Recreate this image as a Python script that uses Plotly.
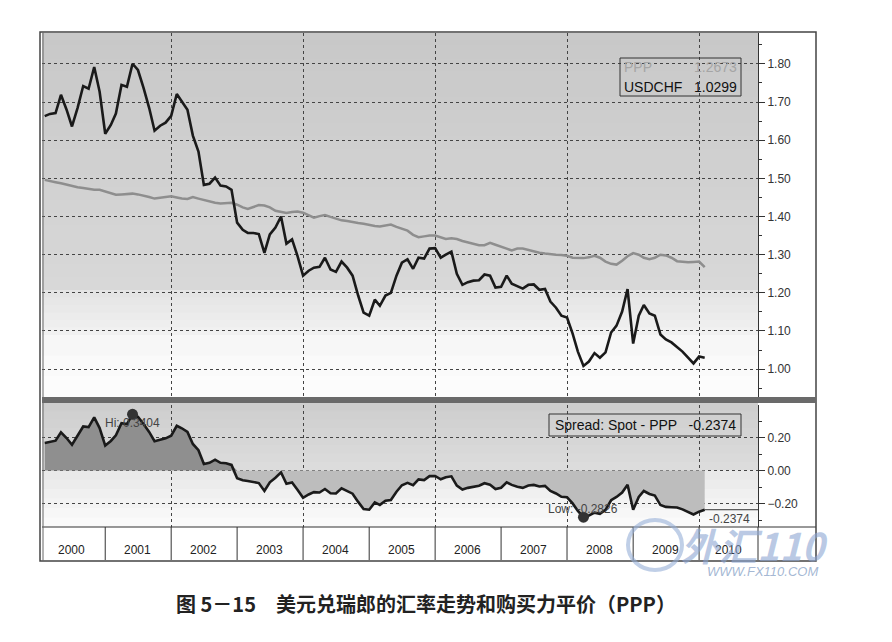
import numpy as np
import pandas as pd
import plotly.graph_objects as go

# monthly readings, Feb 2000 .. Feb 2010
months = pd.date_range("2000-02-01", periods=121, freq="MS")

usdchf = [
    1.663, 1.669, 1.671, 1.719, 1.680, 1.636, 1.685, 1.742, 1.735, 1.792,
    1.727, 1.617, 1.640, 1.670, 1.745, 1.740, 1.8004, 1.784, 1.737, 1.685,
    1.625, 1.638, 1.646, 1.664, 1.721, 1.703, 1.680, 1.612, 1.570, 1.483,
    1.486, 1.502, 1.481, 1.479, 1.470, 1.384, 1.365, 1.357, 1.357, 1.354,
    1.305, 1.353, 1.371, 1.400, 1.329, 1.340, 1.297, 1.245, 1.258, 1.266,
    1.268, 1.292, 1.261, 1.255, 1.282, 1.266, 1.245, 1.193, 1.148, 1.140,
    1.182, 1.166, 1.193, 1.200, 1.245, 1.279, 1.288, 1.263, 1.292, 1.290,
    1.316, 1.317, 1.292, 1.300, 1.308, 1.250, 1.221, 1.228, 1.232, 1.233,
    1.248, 1.245, 1.214, 1.216, 1.245, 1.224, 1.218, 1.211, 1.221, 1.222,
    1.208, 1.210, 1.177, 1.161, 1.140, 1.135, 1.093, 1.046, 1.0084, 1.020,
    1.042, 1.030, 1.044, 1.096, 1.114, 1.151, 1.210, 1.067, 1.140, 1.168,
    1.146, 1.140, 1.091, 1.078, 1.070, 1.059, 1.046, 1.030, 1.015, 1.033,
    1.0299,
]

ppp = [
    1.496, 1.494, 1.490, 1.487, 1.483, 1.480, 1.477, 1.475, 1.472, 1.470,
    1.470, 1.466, 1.461, 1.457, 1.458, 1.459, 1.460, 1.458, 1.455, 1.451,
    1.447, 1.449, 1.451, 1.453, 1.450, 1.447, 1.446, 1.451, 1.447, 1.443,
    1.439, 1.436, 1.434, 1.435, 1.436, 1.431, 1.424, 1.420, 1.426, 1.430,
    1.429, 1.424, 1.415, 1.411, 1.409, 1.412, 1.413, 1.410, 1.403, 1.397,
    1.401, 1.404, 1.399, 1.394, 1.390, 1.388, 1.385, 1.383, 1.381, 1.377,
    1.375, 1.374, 1.376, 1.379, 1.373, 1.368, 1.363, 1.352, 1.346, 1.348,
    1.350, 1.350, 1.345, 1.341, 1.343, 1.341, 1.336, 1.333, 1.329, 1.325,
    1.325, 1.331, 1.326, 1.320, 1.316, 1.311, 1.316, 1.316, 1.312, 1.309,
    1.305, 1.303, 1.301, 1.300, 1.299, 1.297, 1.292, 1.291, 1.291, 1.293,
    1.297, 1.292, 1.282, 1.276, 1.274, 1.284, 1.296, 1.304, 1.300, 1.292,
    1.288, 1.292, 1.300, 1.298, 1.292, 1.283, 1.281, 1.280, 1.281, 1.282,
    1.2673,
]

years = list(range(2000, 2011))

spread = np.round(np.array(usdchf) - np.array(ppp), 4)

W, H = 892, 642
FONT = "Liberation Sans"


def px(x):
    return x / W


def py(y):
    return 1 - y / H


fig = go.Figure()

###### background gradients (pixel bands, overlapped a little to hide seams)
shapes = []


def band(y0, y1, c0, c1, n):
    for i in range(n):
        a = y0 + (y1 - y0) * i / n
        b = y0 + (y1 - y0) * (i + 1) / n + 1.0
        g = int(round(c0 + (c1 - c0) * i / max(n - 1, 1)))
        shapes.append(dict(type="rect", xref="paper", yref="paper",
                           x0=px(42), x1=px(758), y0=py(min(b, y1)), y1=py(a),
                           fillcolor=f"rgb({g},{g},{g})", line_width=0, layer="below"))


band(33, 290, 200, 216, 20)
band(290, 335, 228, 241, 6)
band(335, 397, 247, 252, 3)
band(403, 470, 206, 220, 8)
band(470, 527, 233, 250, 6)

###### top panel
fig.add_trace(go.Scatter(x=months, y=ppp, mode="lines", line=dict(color="#8e8e8e", width=2.5),
                         xaxis="x", yaxis="y", name="PPP"))
fig.add_trace(go.Scatter(x=months, y=usdchf, mode="lines", line=dict(color="#1a1a1a", width=2.6),
                         xaxis="x", yaxis="y", name="USDCHF"))

###### lower panel (spread)
fig.add_trace(go.Scatter(x=months, y=np.maximum(spread, 0), mode="lines", line_width=0,
                         fill="tozeroy", fillcolor="#8f8f8f", xaxis="x2", yaxis="y2"))
fig.add_trace(go.Scatter(x=months, y=np.minimum(spread, 0), mode="lines", line_width=0,
                         fill="tozeroy", fillcolor="#bdbdbd", xaxis="x2", yaxis="y2"))
fig.add_trace(go.Scatter(x=months, y=spread, mode="lines", line=dict(color="#1a1a1a", width=2.6),
                         xaxis="x2", yaxis="y2"))

hi = int(np.argmax(spread))
lo = int(np.argmin(spread))
fig.add_trace(go.Scatter(x=[months[hi], months[lo]], y=[spread[hi], spread[lo]], mode="markers",
                         marker=dict(color="#333333", size=11), xaxis="x2", yaxis="y2"))

ann = []
ann.append(dict(x=months[hi], y=spread[hi], xref="x2", yref="y2", text=f"Hi: {spread[hi]:.4f}",
                showarrow=False, yshift=-9, xanchor="center", yanchor="middle",
                font=dict(family=FONT, size=12, color="#444")))
ann.append(dict(x=months[lo], y=spread[lo], xref="x2", yref="y2", text=f"Low: {spread[lo]:.4f}",
                showarrow=False, yshift=8, xanchor="center", yanchor="middle",
                font=dict(family=FONT, size=12, color="#444")))
ann.append(dict(x=months[-1], y=spread[-1], xref="x2", yref="y2", text=f"{spread[-1]:.4f}",
                showarrow=False, xanchor="left", yanchor="middle", xshift=2, yshift=-9,
                font=dict(family=FONT, size=12, color="#444")))
shapes.append(dict(type="line", xref="x2", yref="y2", x0=months[-1], x1="2010-11-23",
                   y0=spread[-1], y1=spread[-1], line=dict(color="#333", width=1)))

###### legend boxes
shapes.append(dict(type="rect", xref="paper", yref="paper", x0=px(620), x1=px(741),
                   y0=py(96), y1=py(58), line=dict(color="#333", width=1)))
ann.append(dict(x=px(622), y=py(67), xref="paper", yref="paper", text="PPP", showarrow=False,
                xanchor="left", yanchor="middle", font=dict(family=FONT, size=14, color="#a5a5a5")))
ann.append(dict(x=px(739), y=py(67), xref="paper", yref="paper", text=f"{ppp[-1]:.4f}",
                showarrow=False, xanchor="right", yanchor="middle",
                font=dict(family=FONT, size=14, color="#a5a5a5")))
ann.append(dict(x=px(622), y=py(87), xref="paper", yref="paper", text="USDCHF", showarrow=False,
                xanchor="left", yanchor="middle", font=dict(family=FONT, size=14, color="#111")))
ann.append(dict(x=px(739), y=py(87), xref="paper", yref="paper", text=f"{usdchf[-1]:.4f}",
                showarrow=False, xanchor="right", yanchor="middle",
                font=dict(family=FONT, size=14, color="#111")))

shapes.append(dict(type="rect", xref="paper", yref="paper", x0=px(549), x1=px(741),
                   y0=py(436), y1=py(414), line=dict(color="#333", width=1)))
ann.append(dict(x=px(645), y=py(425), xref="paper", yref="paper",
                text=f"Spread: Spot - PPP   {spread[-1]:.4f}", showarrow=False,
                xanchor="center", yanchor="middle", font=dict(family=FONT, size=14, color="#111")))

###### year band
shapes.append(dict(type="line", xref="paper", yref="paper", x0=px(42), x1=px(816),
                   y0=py(527), y1=py(527), line=dict(color="#333", width=1)))
for yr in years[1:]:
    shapes.append(dict(type="line", xref="x", yref="paper", x0=f"{yr}-01-01", x1=f"{yr}-01-01",
                       y0=py(560), y1=py(527), line=dict(color="#333", width=1)))
shapes.append(dict(type="line", xref="paper", yref="paper", x0=px(758), x1=px(758),
                   y0=py(560), y1=py(527), line=dict(color="#333", width=1)))
for yr in years:
    ann.append(dict(x=f"{yr}-07-01" if yr < 2010 else "2010-06-12", y=py(550), xref="x",
                    yref="paper", text=str(yr), showarrow=False, xanchor="center",
                    yanchor="middle", font=dict(family=FONT, size=12, color="#222")))

###### frame
shapes.append(dict(type="rect", xref="paper", yref="paper", x0=px(40), x1=px(816),
                   y0=py(561), y1=py(32), line=dict(color="#444", width=1.5)))
shapes.append(dict(type="line", xref="paper", yref="paper", x0=px(43), x1=px(43),
                   y0=py(561), y1=py(32), line=dict(color="#666", width=1)))
shapes.append(dict(type="rect", xref="paper", yref="paper", x0=px(42), x1=px(816),
                   y0=py(403), y1=py(397), fillcolor="#6a6a6a", line_width=0))

###### watermark
shapes.append(dict(type="circle", xref="paper", yref="paper", x0=px(628), x1=px(682),
                   y0=py(570), y1=py(520), line=dict(color="rgba(150,175,215,0.6)", width=4)))
ann.append(dict(x=px(755), y=py(544), xref="paper", yref="paper", text="<b>外汇110</b>",
                showarrow=False, xanchor="center", yanchor="middle",
                font=dict(family="Noto Sans CJK SC", size=38,
                          color="rgba(140,165,210,0.6)", style="italic")))
ann.append(dict(x=px(762), y=py(571), xref="paper", yref="paper", text="WWW.FX110.COM",
                showarrow=False, xanchor="center", yanchor="middle",
                font=dict(family=FONT, size=13, color="rgba(140,165,200,0.8)", style="italic")))

###### caption
ann.append(dict(x=px(426), y=py(603), xref="paper", yref="paper",
                text="<b>图 5－15　美元兑瑞郎的汇率走势和购买力平价（PPP）</b>", showarrow=False,
                xanchor="center", yanchor="middle",
                font=dict(family="Noto Sans CJK SC", size=20, color="#222")))

xa = dict(domain=[px(42), px(758)], type="date", range=["2000-01-17", "2010-11-23"],
          showgrid=True, gridcolor="#444", griddash="dot", gridwidth=1, dtick="M24",
          tick0="2000-01-01", showticklabels=False, ticks="", zeroline=False, showline=False)
ya = dict(side="right", tickformat=".2f", showgrid=True, gridcolor="#444", griddash="dot",
          gridwidth=1, zeroline=False, showline=True, linecolor="#333", linewidth=1,
          ticks="outside", ticklen=6, tickcolor="#333",
          tickfont=dict(family=FONT, size=12, color="#333"))

fig.update_layout(
    width=W, height=H, margin=dict(l=0, r=0, t=0, b=0),
    paper_bgcolor="white", plot_bgcolor="rgba(0,0,0,0)", showlegend=False,
    xaxis=dict(xa, anchor="y"),
    xaxis2=dict(xa, anchor="y2", matches="x"),
    yaxis=dict(ya, domain=[py(397), py(33)], range=[0.927, 1.881], dtick=0.1, tick0=1.0,
               anchor="x", minor=dict(dtick=0.05, ticks="outside", ticklen=3, tickcolor="#333",
                                      showgrid=False)),
    yaxis2=dict(ya, domain=[py(527), py(405)], range=[-0.342, 0.397], dtick=0.2, tick0=0,
                anchor="x2", minor=dict(dtick=0.1, ticks="outside", ticklen=3, tickcolor="#333",
                                        showgrid=False)),
    shapes=shapes,
    annotations=ann,
)

fig.write_html("out.html", config={"displayModeBar": False},
               post_script="document.body.style.margin='0';")
